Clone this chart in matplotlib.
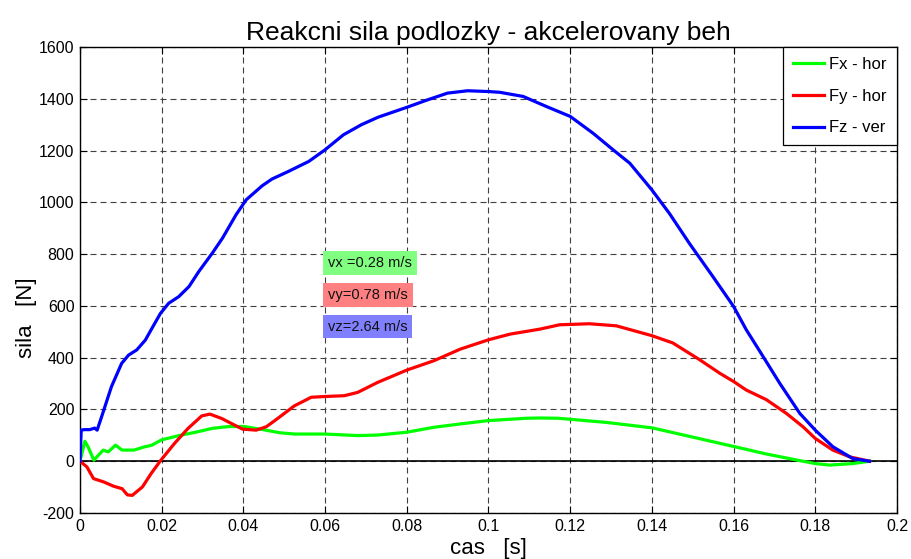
import matplotlib
matplotlib.use("Agg")
import matplotlib.pyplot as plt

plt.rcParams['font.family'] = ['Liberation Sans', 'DejaVu Sans']
plt.rcParams['axes.unicode_minus'] = False

# casy a sily pro jednotlive slozky
t_fx = [0, 0.0012, 0.002, 0.0034, 0.0045, 0.0057, 0.0069, 0.0087, 0.0103, 0.0132,
        0.0157, 0.0176, 0.0199, 0.0242, 0.0283, 0.0324, 0.0365, 0.0402, 0.0448, 0.0489,
        0.0525, 0.06, 0.068, 0.0728, 0.08, 0.0866, 0.0931, 0.1, 0.1093, 0.1125,
        0.117, 0.12, 0.1288, 0.14, 0.1492, 0.16, 0.168, 0.1753, 0.18, 0.1835,
        0.1892, 0.1933]
fx = [0, 77, 55, 4, 23, 43, 36, 62, 43, 43,
      55, 62, 82, 99, 112, 127, 134, 134, 122, 110,
      105, 105, 99, 101, 112, 131, 144, 157, 166, 167,
      166, 162, 150, 129, 96, 57, 28, 5, -9, -15,
      -9, 0]

t_fy = [0, 0.0017, 0.0033, 0.0058, 0.0083, 0.0103, 0.0116, 0.0128, 0.0153, 0.0174,
        0.0198, 0.0231, 0.0264, 0.0298, 0.0318, 0.0347, 0.0374, 0.0398, 0.0431, 0.0456,
        0.0477, 0.0525, 0.0566, 0.06, 0.0647, 0.068, 0.0728, 0.08, 0.0866, 0.0931,
        0.1, 0.1053, 0.1125, 0.1174, 0.1247, 0.1313, 0.14, 0.1451, 0.1517, 0.1566,
        0.16, 0.1631, 0.168, 0.1729, 0.177, 0.18, 0.1843, 0.1884, 0.1933]
fy = [0, -22, -67, -80, -97, -106, -130, -132, -99, -48,
      4, 68, 126, 175, 182, 165, 143, 124, 120, 133,
      157, 214, 247, 250, 253, 266, 304, 352, 388, 433,
      469, 491, 510, 527, 531, 523, 485, 457, 392, 340,
      308, 275, 238, 185, 133, 88, 43, 17, 0]

t_fz = [0, 0.0003, 0.001, 0.0024, 0.0036, 0.0042, 0.0053, 0.0077, 0.0102, 0.0119,
        0.0139, 0.016, 0.0176, 0.0197, 0.0217, 0.0242, 0.0267, 0.0291, 0.0324, 0.0349,
        0.0382, 0.0407, 0.0446, 0.047, 0.0511, 0.056, 0.06, 0.0645, 0.0689, 0.073,
        0.08, 0.0851, 0.09, 0.0949, 0.1, 0.1028, 0.1085, 0.1142, 0.12, 0.1256,
        0.1305, 0.1346, 0.14, 0.1443, 0.1492, 0.1549, 0.16, 0.1631, 0.1672, 0.1713,
        0.1762, 0.18, 0.1843, 0.1892, 0.1933]
fz = [0, 120, 122, 122, 128, 120, 172, 288, 378, 410,
      430, 468, 513, 571, 610, 636, 675, 733, 804, 862,
      952, 1010, 1064, 1090, 1120, 1158, 1203, 1261, 1300, 1329,
      1367, 1396, 1422, 1431, 1428, 1425, 1409, 1370, 1332, 1267,
      1203, 1151, 1048, 957, 841, 714, 598, 508, 405, 301,
      185, 120, 56, 10, 0]

labels = ['Fx - hor', 'Fy - hor', 'Fz - ver']
colors = ['#00ff00', '#ff0000', '#0000ff']
rychlosti = ['vx =0.28 m/s', 'vy=0.78 m/s', 'vz=2.64 m/s']
rychlosti_y = [765, 643, 520]
rychlosti_bg = [(0.5, 1.0, 0.5), (1.0, 0.5, 0.5), (0.5, 0.5, 1.0)]

fig = plt.figure(figsize=(9.11, 5.59), dpi=100)
ax = fig.add_axes([0.0878, 0.0823, 0.8968, 0.8336])

for t, f, lab, c in zip([t_fx, t_fy, t_fz], [fx, fy, fz], labels, colors):
    ax.plot(t, f, color=c, lw=2.3, label=lab, zorder=3)

ax.axhline(0, color='k', lw=1.2, zorder=2)

for txt, yy, bg in zip(rychlosti, rychlosti_y, rychlosti_bg):
    ax.text(0.0607, yy, txt, fontsize=10.5, va='center', ha='left', color='#111111',
            bbox=dict(facecolor=bg, edgecolor='none', pad=3.5), zorder=4)

ax.set_xlim(0, 0.2)
ax.set_ylim(-200, 1600)
ax.set_xticks([0, 0.02, 0.04, 0.06, 0.08, 0.1, 0.12, 0.14, 0.16, 0.18, 0.2])
ax.set_xticklabels(['0', '0.02', '0.04', '0.06', '0.08', '0.1', '0.12', '0.14',
                    '0.16', '0.18', '0.2'])
ax.set_yticks(range(-200, 1601, 200))
ax.tick_params(direction='in', top=True, right=True, length=5, width=0.8,
               labelsize=11.5, pad=4)
ax.grid(True, color='0.25', lw=0.8, linestyle=(0, (5.4, 3.6)))
for s in ax.spines.values():
    s.set_linewidth(1.0)

ax.set_title('Reakcni sila podlozky - akcelerovany beh', fontsize=19, pad=5)
ax.set_xlabel('cas   [s]', fontsize=16, labelpad=3)
ax.set_ylabel('sila   [N]', fontsize=16)
ax.yaxis.set_label_coords(-0.053, 0.42)

leg = ax.legend(loc='upper right', borderaxespad=0, fancybox=False, framealpha=1,
                edgecolor='k', fontsize=12, handlelength=1.9, handletextpad=0.3,
                labelspacing=1.0, borderpad=0.6)
leg.get_frame().set_linewidth(0.9)

fig.savefig('out.png', dpi=100)
